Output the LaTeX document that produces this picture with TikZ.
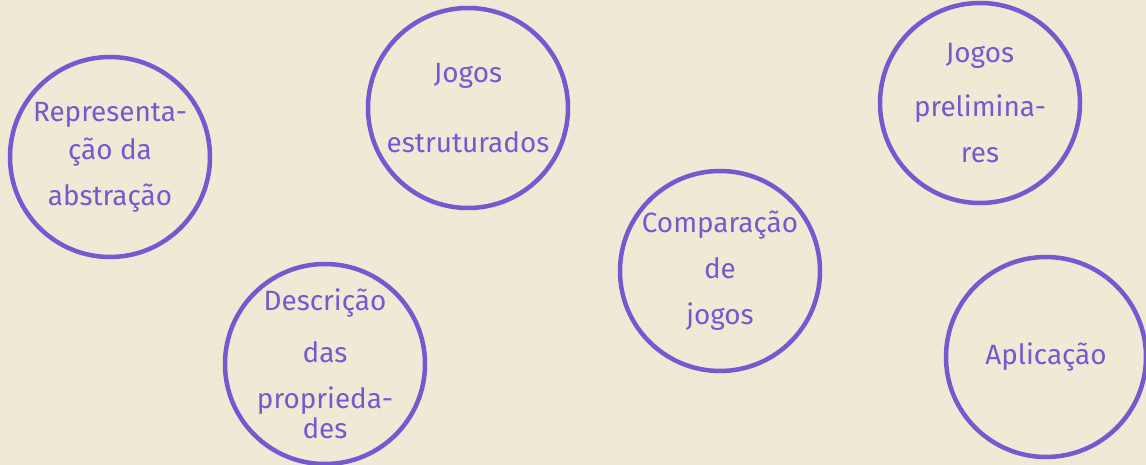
\documentclass[tikz,border=0pt]{standalone}
\usepackage{fontspec}
\setmainfont{Fira Sans}
\usepackage{tikz}
\definecolor{ink}{RGB}{118,88,208}
\definecolor{paper}{RGB}{239,234,214}

\begin{document}
\begin{tikzpicture}[line join=bevel,
  topic/.style={circle,draw=ink,text=ink,line width=4.5bp,minimum size=200bp,inner sep=-30bp,align=center,font=\fontsize{28}{46}\selectfont}]
\fill [paper] (0bp,0bp) rectangle (1146bp,465bp);
\useasboundingbox (0bp,0bp) rectangle (1146bp,465bp);
%%
\node (node_0) at (110bp,308bp) [topic] {Representa-\\[-8bp]ção da\\abstração};
  \node (node_1) at (468bp,357bp) [topic] {Jogos\\[24bp]estruturados};
  \node (node_2) at (980bp,362bp) [topic] {Jogos\\[8bp]prelimina-\\res};
  \node (node_3) at (720bp,194bp) [topic] {Comparação\\de\\jogos};
  \node (node_4) at (325bp,101bp) [topic] {Descrição\\[6bp]das\\proprieda-\\[-16bp]des};
  \node (node_5) at (1046bp,108bp) [topic] {Aplicação};
%
\end{tikzpicture}
\end{document}
